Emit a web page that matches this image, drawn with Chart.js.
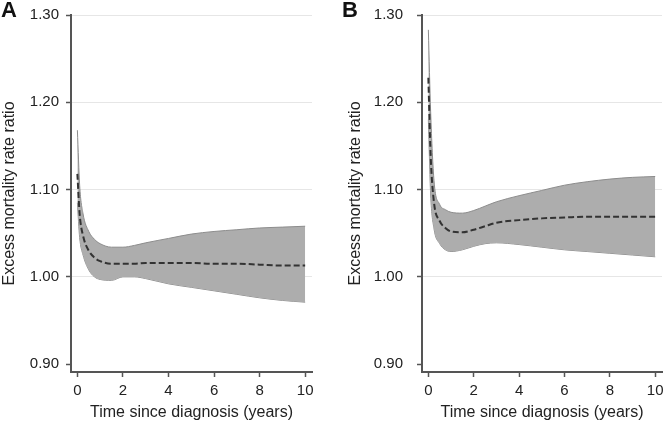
<!DOCTYPE html>
<html>
<head>
<meta charset="utf-8">
<script src="https://cdn.jsdelivr.net/npm/chart.js@4/dist/chart.umd.min.js"></script>
<style>
    body { margin: 0; background: #fff; }
    #wrap { position: relative; width: 667px; height: 422px; overflow: hidden; }
    canvas { position: absolute; top: 0; }
    .letter { position: absolute; top: -3px; font: bold 22px "Liberation Sans", Arial, sans-serif; color: #111; }
</style>
</head>
<body>
<div id="wrap">
    <canvas id="chartA" width="333" height="422" style="left:0"></canvas>
    <canvas id="chartB" width="321" height="422" style="left:346px"></canvas>
    <div class="letter" style="left:1px">A</div>
    <div class="letter" style="left:342px">B</div>
</div>
<script>
// Tempo desde o diagnóstico (anos)
const years = [0, 0.1, 0.25, 0.5, 0.75, 1, 1.5, 2, 2.5, 3, 4, 5, 6, 7, 8, 9, 10];

// Painel A
const aEst   = [1.118, 1.072, 1.047, 1.030, 1.022, 1.018, 1.015, 1.015, 1.015, 1.016, 1.016, 1.016, 1.015, 1.015, 1.014, 1.013, 1.013];
const aLower = [1.085, 1.045, 1.025, 1.008, 1.000, 0.997, 0.996, 1.000, 1.000, 0.998, 0.992, 0.988, 0.984, 0.980, 0.976, 0.973, 0.971];
const aUpper = [1.168, 1.105, 1.072, 1.052, 1.043, 1.038, 1.034, 1.034, 1.036, 1.039, 1.044, 1.049, 1.052, 1.054, 1.056, 1.057, 1.058];

// Painel B
const bEst   = [1.228, 1.140, 1.085, 1.064, 1.056, 1.052, 1.051, 1.054, 1.058, 1.062, 1.065, 1.067, 1.068, 1.069, 1.069, 1.069, 1.069];
const bLower = [1.180, 1.095, 1.055, 1.038, 1.031, 1.029, 1.031, 1.035, 1.038, 1.039, 1.037, 1.034, 1.031, 1.029, 1.027, 1.025, 1.023];
const bUpper = [1.283, 1.190, 1.110, 1.083, 1.077, 1.074, 1.073, 1.076, 1.081, 1.086, 1.093, 1.099, 1.105, 1.109, 1.112, 1.114, 1.115];

const xTicks = [0, 2, 4, 6, 8, 10];
const yTicks = [0.90, 1.00, 1.10, 1.20, 1.30];

const FONT = '"Liberation Sans", Arial, sans-serif';
const toPoints = (vals) => vals.map((v, i) => ({ x: years[i], y: v }));

const makePanel = (id, est, lower, upper, yWidth, yPad, padRight) => {
    const bandLine = { borderColor: '#8c8c8c', borderWidth: 1, pointRadius: 0, cubicInterpolationMode: 'monotone' };
    return new Chart(document.getElementById(id), {
        type: 'line',
        data: {
            datasets: [
                // linha tracejada primeiro para ficar por cima da faixa
                {
                    data: toPoints(est), fill: false, borderColor: '#333', borderWidth: 2,
                    borderDash: [6, 3], pointRadius: 0, cubicInterpolationMode: 'monotone'
                },
                { ...bandLine, data: toPoints(upper), fill: '+1', backgroundColor: '#adadad' },
                { ...bandLine, data: toPoints(lower), fill: false }
            ]
        },
        options: {
            responsive: false,
            animation: false,
            devicePixelRatio: 1,
            layout: { padding: { top: 15, right: padRight, left: 0, bottom: 0 } },
            plugins: { legend: { display: false }, tooltip: { enabled: false } },
            scales: {
                x: {
                    type: 'linear', min: -0.28, max: 10.3,
                    afterBuildTicks: s => { s.ticks = xTicks.map(v => ({ value: v })); },
                    afterFit: s => { s.height = 50; s.paddingLeft = 0; s.paddingRight = 0; },
                    grid: { drawOnChartArea: false, drawTicks: true, tickLength: 5, tickColor: '#555', tickWidth: 1.5 },
                    border: { display: true, color: '#555', width: 2 },
                    ticks: { color: '#222', padding: 5, font: { family: FONT, size: 15 } },
                    title: { display: true, text: 'Time since diagnosis (years)', color: '#222', padding: { top: 0, bottom: 0 }, font: { family: FONT, size: 16 } }
                },
                y: {
                    min: 0.891, max: 1.30,
                    afterBuildTicks: s => { s.ticks = yTicks.map(v => ({ value: v })); },
                    afterFit: s => { s.width = yWidth; s.paddingTop = 0; s.paddingBottom = 0; },
                    grid: {
                        color: c => (c.tick && c.tick.value < 0.95) ? 'rgba(0,0,0,0)' : '#e6e6e6',
                        lineWidth: 1, drawTicks: true, tickLength: 5, tickColor: '#555', tickWidth: 1.5
                    },
                    border: { display: true, color: '#555', width: 2 },
                    ticks: { color: '#222', padding: yPad, font: { family: FONT, size: 15 }, callback: v => Number(v).toFixed(2) },
                    title: { display: true, text: 'Excess mortality rate ratio', color: '#222', padding: { top: 0, bottom: 0 }, font: { family: FONT, size: 16 } }
                }
            }
        }
    });
};

makePanel('chartA', aEst, aLower, aUpper, 71, 7, 21);
makePanel('chartB', bEst, bLower, bUpper, 76, 14, 5);
</script>
</body>
</html>
